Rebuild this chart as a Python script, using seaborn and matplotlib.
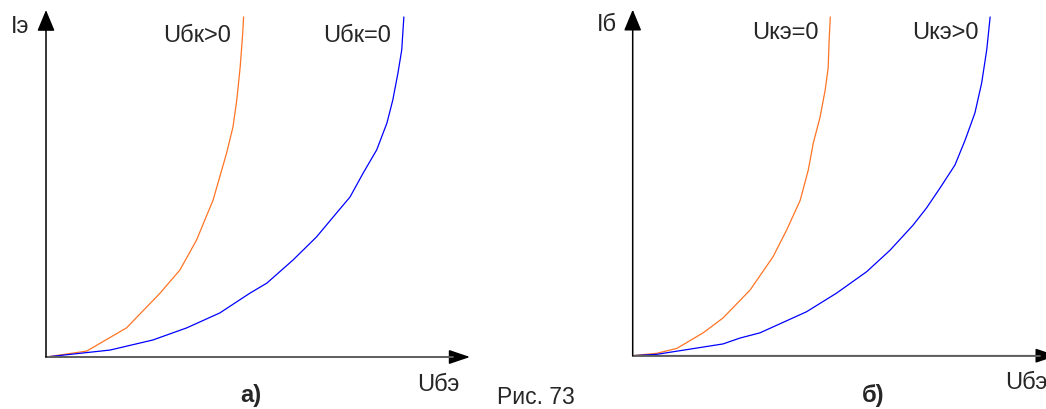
import numpy as np
import pandas as pd
import matplotlib
matplotlib.use('Agg')
import matplotlib.pyplot as plt
import seaborn as sns

# Data (arbitrary units)
# panel а): Iэ vs Uбэ
a_pos_x = [0, 9.6, 19.0, 26.9, 31.6, 35.5, 39.4, 42.6, 44.1, 45.0, 45.8, 46.4, 46.6]
a_pos_y = [0, 1.7, 8.4, 18.4, 25.1, 33.7, 45.2, 58.8, 66.3, 74.1, 83.6, 93.4, 98.0]
a_zero_x = [0, 15.1, 25.2, 33.2, 41.0, 48.1, 52.1, 58.3, 63.8, 67.7, 71.7, 74.8, 78.0,
            80.4, 81.8, 83.0, 83.9, 84.4]
a_zero_y = [0, 2.0, 4.9, 8.4, 12.7, 18.4, 21.3, 28.0, 34.6, 40.3, 46.1, 53.0, 59.7,
            67.4, 74.1, 81.8, 88.5, 98.0]

# panel б): Iб vs Uбэ
b_zero_x = [0, 5.7, 10.4, 16.6, 21.3, 27.7, 33.1, 36.3, 39.5, 41.4, 42.6, 44.2, 45.4,
            46.1, 46.3, 46.6]
b_zero_y = [0, 0.7, 2.1, 6.6, 10.9, 19.0, 28.6, 36.3, 44.9, 53.6, 61.5, 69.0, 76.8,
            83.2, 90.4, 97.9]
b_pos_x = [0, 5.7, 21.3, 25.3, 30.0, 41.0, 48.1, 55.2, 60.7, 66.1, 69.3, 72.5, 76.0,
           78.4, 80.7, 82.3, 83.5, 84.3]
b_pos_y = [0, 0.4, 3.4, 5.1, 6.6, 12.7, 18.1, 24.3, 30.5, 37.7, 42.7, 48.5, 55.1,
           62.3, 70.1, 78.8, 88.4, 97.9]

orange = '#ff7424'
blue = '#0000ff'

sns.set_style('white')
plt.rcParams['font.family'] = ['Liberation Sans', 'DejaVu Sans']

fig = plt.figure(figsize=(10.46, 4.09), dpi=100)
W, H = 1046, 409


def make_axes(x0, y0, w, h):
    return fig.add_axes([x0 / W, (H - y0) / H, w / W, h / H])


def draw_axes(ax):
    ax.set_xlim(0, 100)
    ax.set_ylim(0, 100)
    for s in ax.spines.values():
        s.set_visible(False)
    ax.set_xticks([])
    ax.set_yticks([])
    ax.set_xlabel('')
    ax.set_ylabel('')
    ax.patch.set_alpha(0)
    # x axis arrow
    ax.annotate('', xy=(1, 0), xytext=(0, 0), xycoords='axes fraction',
                arrowprops=dict(arrowstyle='-|>,head_length=0.65,head_width=0.22',
                                mutation_scale=20, color='black', lw=1.1,
                                shrinkA=0, shrinkB=0), annotation_clip=False)
    ax.plot([0, 0.96], [0, 0], color='#666666', lw=1.3, transform=ax.transAxes,
            clip_on=False, zorder=3)
    # y axis arrow
    ax.annotate('', xy=(0, 1), xytext=(0, 0), xycoords='axes fraction',
                arrowprops=dict(arrowstyle='-|>,head_length=0.65,head_width=0.27',
                                mutation_scale=20, color='black', lw=1.1,
                                shrinkA=0, shrinkB=0), annotation_clip=False)


# panel а)
ax1 = make_axes(46, 357, 424, 347)
sns.lineplot(x=a_pos_x, y=a_pos_y, ax=ax1, color=orange, lw=0.9, sort=False)
sns.lineplot(x=a_zero_x, y=a_zero_y, ax=ax1, color=blue, lw=0.9, sort=False)
draw_axes(ax1)
fs = 17
ax1.text(-6.1, 95.1, 'Iэ', fontsize=fs, ha='center', va='center')
ax1.text(35.6, 92.5, 'Uбк>0', fontsize=fs, ha='center', va='center')
ax1.text(73.3, 92.5, 'Uбк=0', fontsize=fs, ha='center', va='center')
ax1.text(92.5, -8.1, 'Uбэ', fontsize=fs, ha='center', va='center')
ax1.text(48.3, -11.2, 'а)', fontsize=fs, fontweight='bold', ha='center', va='center')

# panel б)
ax2 = make_axes(632.7, 355.7, 424, 346)
sns.lineplot(x=b_zero_x, y=b_zero_y, ax=ax2, color=orange, lw=0.9, sort=False)
sns.lineplot(x=b_pos_x, y=b_pos_y, ax=ax2, color=blue, lw=0.9, sort=False)
draw_axes(ax2)
ax2.text(-6.1, 95.6, 'Iб', fontsize=fs, ha='center', va='center')
ax2.text(35.9, 93.3, 'Uкэ=0', fontsize=fs, ha='center', va='center')
ax2.text(73.7, 93.3, 'Uкэ>0', fontsize=fs, ha='center', va='center')
ax2.text(92.8, -7.9, 'Uбэ', fontsize=fs, ha='center', va='center')
ax2.text(56.7, -11.6, 'б)', fontsize=fs, fontweight='bold', ha='center', va='center')

fig.text(497 / W, 0.012, 'Рис. 73', fontsize=16.5, ha='left', va='baseline')

fig.savefig('out.png', dpi=100)
